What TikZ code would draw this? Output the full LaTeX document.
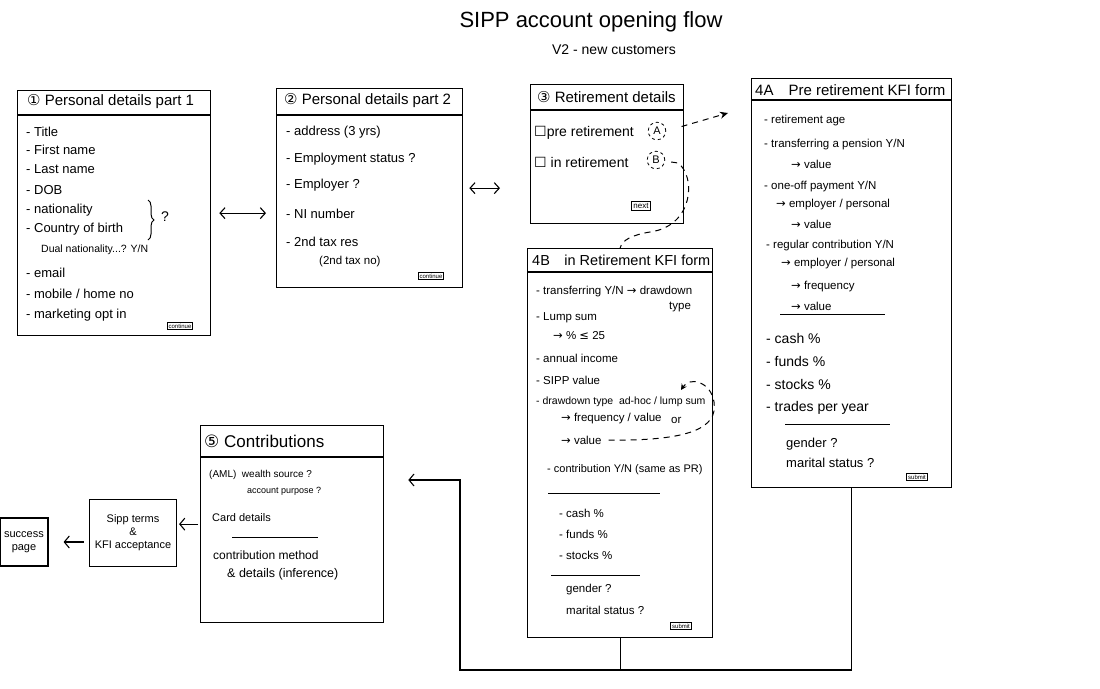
\documentclass[tikz,border=0pt]{standalone}
\usepackage{fontspec}
\setmainfont{Liberation Sans}
\newfontfamily\symf{DejaVu Sans}
\usetikzlibrary{arrows.meta,decorations.pathreplacing,calc}
\newcommand{\rar}{{\symf →}}
\begin{document}
\begin{tikzpicture}[x=1pt,y=-1pt,
  screen/.style={draw, line width=1.3pt, anchor=north west, inner sep=0pt},
  hline/.style={line width=1.2pt},
  uline/.style={line width=1pt},
  item/.style={anchor=west, inner sep=1pt, font=\fontsize{13}{15}\selectfont},
  sitem/.style={anchor=west, inner sep=1pt, font=\fontsize{11.5}{13}\selectfont},
  head/.style={anchor=west, inner sep=1pt, font=\fontsize{15}{17}\selectfont},
  btn/.style={draw, line width=1pt, inner sep=1.5pt, font=\fontsize{6}{7}\selectfont},
  flow/.style={line width=1.1pt},
  dflow/.style={line width=1pt, dash pattern=on 6pt off 5pt},
  barb/.style={-{Straight Barb[length=5pt,width=12pt]}},
  dbarb/.style={{Straight Barb[length=5pt,width=11pt]}-{Straight Barb[length=5pt,width=11pt]}},
  dcirc/.style={circle, draw, dashed, line width=0.8pt, inner sep=2.5pt, font=\fontsize{11}{12}\selectfont},
]
\useasboundingbox (0,0) rectangle (1100,688);

% title
\node[font=\fontsize{22}{25}\selectfont] (title) at (591,22) {SIPP account opening flow};
\node[font=\fontsize{14}{16}\selectfont] (sub) at (614,50) {V2 - new customers};

% ---------- screen 1
\node[screen, minimum width=193pt, minimum height=245pt] (p1) at (17,90) {};
\draw[hline] ($(p1.north west)+(0,25)$) -- ($(p1.north east)+(0,25)$);
\node[head] (p1hd) at (26,102) {{\symf ①} Personal details part 1};
\foreach \n/\x/\y/\t in {a/25/132/{- Title}, b/25/150/{- First name}, c/25/169/{- Last name},
  d/25/190/{- DOB}, e/25/210/{- nationality}, f/25/229/{- Country of birth},
  h/25/273/{- email}, i/25/294/{- mobile / home no}, j/25/315/{- marketing opt in}}
  \node[item] (p1\n) at (\x,\y) {\t};
\node[sitem, font=\fontsize{10.5}{12}\selectfont] (p1g) at (40,250) {Dual nationality...? Y/N};
\draw[decorate, decoration={brace, amplitude=6pt}, line width=1pt] (148,200) -- (148,240);
\node[font=\fontsize{14}{16}\selectfont] (p1q) at (165,217) {?};
\node[btn] (p1btn) at (180,326) {continue};

% ---------- screen 2
\node[screen, minimum width=186pt, minimum height=199pt] (p2) at (276,88) {};
\draw[hline] ($(p2.north west)+(0,27)$) -- ($(p2.north east)+(0,27)$);
\node[head] (p2hd) at (283,101) {{\symf ②} Personal details part 2};
\foreach \n/\y/\t in {a/132/{- address (3 yrs)}, b/159/{- Employment status ?},
  c/185/{- Employer ?}, d/214/{- NI number}, e/242/{- 2nd tax res}}
  \node[item] (p2\n) at (285,\y) {\t};
\node[sitem] (p2f) at (318,262) {(2nd tax no)};
\node[btn] (p2btn) at (431,276) {continue};

% ---------- screen 3
\node[screen, minimum width=153pt, minimum height=139pt] (p3) at (530,84) {};
\draw[hline] ($(p3.north west)+(0,26)$) -- ($(p3.north east)+(0,26)$);
\node[head] (p3hd) at (536,97) {{\symf ③} Retirement details};
\node[item, font=\fontsize{14}{16}\selectfont] (p3a) at (533,133) {{\symf ☐}pre retirement};
\node[item, font=\fontsize{14}{16}\selectfont] (p3b) at (533,162) {{\symf ☐} in retirement};
\node[dcirc] (cA) at (657,131) {A};
\node[dcirc] (cB) at (656,160) {B};
\node[btn, font=\fontsize{8}{9}\selectfont] (p3btn) at (641,206) {next};

% ---------- screen 4A
\node[screen, minimum width=200pt, minimum height=409pt] (p4a) at (751,78) {};
\draw[hline] ($(p4a.north west)+(0,22)$) -- ($(p4a.north east)+(0,22)$);
\node[head] (p4ahd) at (754,90) {4A\quad Pre retirement KFI form};
\foreach \n/\x/\y/\t in {a/763/121/{- retirement age}, b/763/145/{- transferring a pension Y/N},
  c/790/164/{\rar\ value}, d/763/187/{- one-off payment Y/N}, e/775/205/{\rar\ employer / personal},
  f/790/224/{\rar\ value}, g/765/246/{- regular contribution Y/N}, h/780/264/{\rar\ employer / personal},
  i/790/287/{\rar\ frequency}, j/790/306/{\rar\ value}}
  \node[sitem] (p4a\n) at (\x,\y) {\t};
\draw[uline] (780,314) -- (885,314);
\foreach \n/\y/\t in {k/338/{- cash \%}, l/361/{- funds \%}, m/384/{- stocks \%}, n/408/{- trades per year}}
  \node[item, font=\fontsize{14}{16}\selectfont] (p4a\n) at (765,\y) {\t};
\draw[uline] (785,424) -- (890,424);
\node[item] (p4ao) at (785,444) {gender ?};
\node[item] (p4ap) at (785,463) {marital status ?};
\node[btn] (p4abtn) at (917,477) {submit};

% ---------- screen 4B
\node[screen, minimum width=185pt, minimum height=389pt] (p4b) at (527,248) {};
\draw[hline] ($(p4b.north west)+(0,24)$) -- ($(p4b.north east)+(0,24)$);
\node[head, font=\fontsize{14.5}{16}\selectfont] (p4bhd) at (531,260) {4B\quad in Retirement KFI form};
\foreach \n/\x/\y/\t in {a/535/292/{- transferring Y/N \rar\ drawdown}, b/535/318/{- Lump sum},
  c/552/336/{\rar\ \% {\symf ≤} 25}, d/535/358/{- annual income}, e/535/380/{- SIPP value},
  g/560/419/{\rar\ frequency / value}, h/560/440/{\rar\ value}}
  \node[sitem] (p4b\n) at (\x,\y) {\t};
\node[sitem, font=\fontsize{10.5}{12}\selectfont] (p4bf) at (535,402) {- drawdown type\ \ ad-hoc / lump sum};
\node[sitem] (p4bt) at (668,307) {type};
\node[sitem] (p4bor) at (670,420) {or};
\node[sitem, font=\fontsize{11}{13}\selectfont] (p4bi) at (546,470) {- contribution Y/N (same as PR)};
\draw[uline] (548,493) -- (660,493);
\foreach \n/\y/\t in {j/513/{- cash \%}, k/534/{- funds \%}, l/555/{- stocks \%}}
  \node[sitem] (p4b\n) at (558,\y) {\t};
\draw[uline] (551,575) -- (640,575);
\node[sitem] (p4bm) at (565,590) {gender ?};
\node[sitem] (p4bn) at (565,610) {marital status ?};
\node[btn] (p4bbtn) at (681,626) {submit};

% ---------- screen 5
\node[screen, minimum width=183pt, minimum height=197pt] (p5) at (200,425) {};
\draw[hline] ($(p5.north west)+(0,32)$) -- ($(p5.north east)+(0,32)$);
\node[head, font=\fontsize{17}{19}\selectfont] (p5hd) at (203,441) {{\symf ⑤} Contributions};
\node[sitem, font=\fontsize{10}{12}\selectfont] (p5a) at (208,475) {(AML)\ \ wealth source ?};
\node[sitem, font=\fontsize{9}{10}\selectfont] (p5b) at (246,491) {account purpose ?};
\node[sitem, font=\fontsize{11}{13}\selectfont] (p5c) at (211,518) {Card details};
\draw[uline] (232,537) -- (318,537);
\node[sitem, font=\fontsize{12}{14}\selectfont] (p5d) at (212,555) {contribution method};
\node[sitem, font=\fontsize{12.5}{14}\selectfont] (p5e) at (226,574) {\& details (inference)};

% ---------- terms and success
\node[draw, line width=1.2pt, minimum width=87pt, minimum height=67pt, align=center, inner sep=1pt,
  font=\fontsize{11}{13}\selectfont] (terms) at (133,533) {Sipp terms\\\&\\KFI acceptance};
\node[draw, line width=1.2pt, minimum width=48pt, minimum height=48pt, align=center, inner sep=1pt,
  font=\fontsize{11}{13}\selectfont] (succ) at (24,542) {success\\page};

% ---------- connectors
\draw[flow, dbarb, shorten <=8pt, shorten >=10pt] (p1.east) -- (p2.west |- p1.east);
\draw[flow, dbarb, shorten <=6pt, shorten >=30pt] (p2.east) -- (p3.west |- p2.east);
\coordinate (aEnd) at (728,113);
\draw[dflow, -{Stealth[length=8pt,width=7pt]}, shorten <=16pt] (cA.east) -- (aEnd);
\draw[dflow] ($(cB.east)+(6,2)$) -- (678,163) .. controls (696,176) and (694,226) .. (650,232)
  .. controls (632,235) and (622,240) .. (p4b.north);
\draw[dflow, -{Stealth[length=6pt,width=6pt]}, shorten <=6pt]
  (p4bh.east) .. controls (690,441) and (718,428) .. (714,402)
  .. controls (711,382) and (690,376) .. (681,390);
\draw[flow, barb, shorten <=2pt, shorten >=2pt] (p5.west) -- (terms.east |- p5.west);
\draw[flow, barb, shorten <=5pt, shorten >=15pt] (terms.west |- succ.east) -- (succ.east);
\coordinate (jL) at (460,670);
\coordinate (jT) at (460,480);
\draw[flow, barb, shorten >=24pt] (p4a.south) |- (jL) -- (jT) -- (p5.east |- jT);
\draw[flow] (p4b.south) -- (p4b.south |- jL);
\end{tikzpicture}
\end{document}
